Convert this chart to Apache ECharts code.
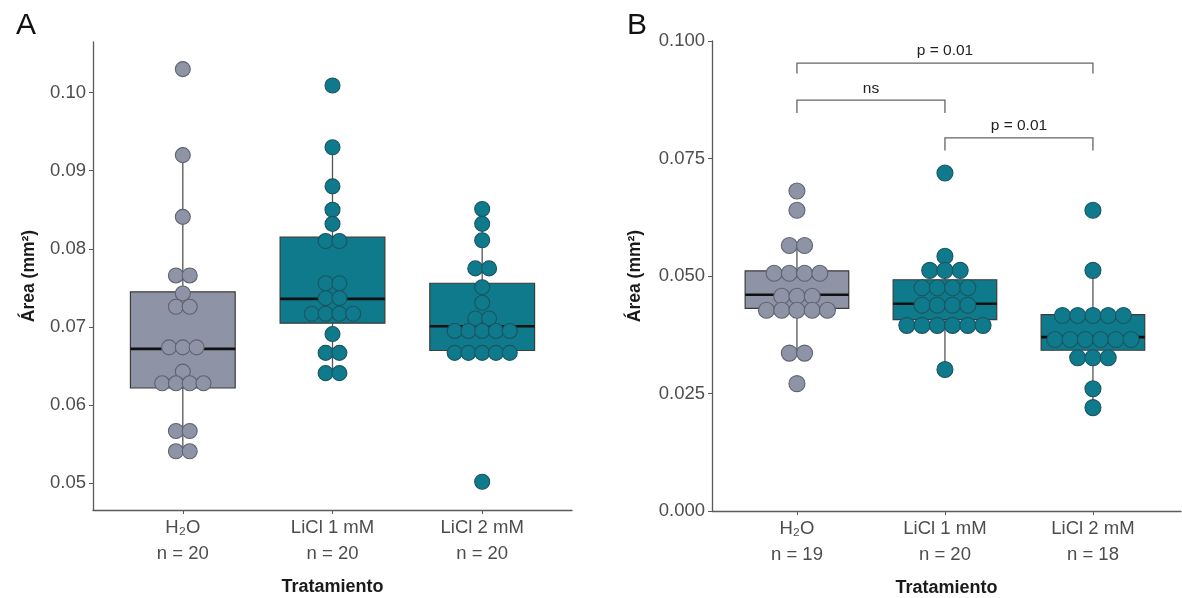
<!DOCTYPE html>
<html><head><meta charset="utf-8">
<script src="https://cdn.jsdelivr.net/npm/echarts@6/dist/echarts.min.js"></script>
<style>html,body{margin:0;padding:0;background:#fff}#c{width:1182px;height:598px}</style>
</head><body><div id="c"></div>
<script>
// ---------- data ----------
const categories = ['H₂O', 'LiCl 1 mM', 'LiCl 2 mM'];
const nA = [20, 20, 20];
const nB = [19, 20, 18];
const ticksA = [0.05, 0.06, 0.07, 0.08, 0.09, 0.10];
const ticksB = [0, 0.025, 0.05, 0.075, 0.1];

// Panel A individual values (dot-plot bins)
const aH2O  = [0.1030, 0.0920, 0.0841, 0.0766, 0.0766, 0.0743, 0.0726, 0.0726, 0.0674, 0.0674, 0.0674,
               0.0643, 0.0628, 0.0628, 0.0628, 0.0628, 0.0567, 0.0567, 0.0541, 0.0541];
const aLi1  = [0.1009, 0.0930, 0.0880, 0.0850, 0.0832, 0.0810, 0.0810, 0.0756, 0.0756, 0.0737, 0.0737,
               0.0717, 0.0717, 0.0717, 0.0717, 0.0691, 0.0667, 0.0667, 0.0641, 0.0641];
const aLi2  = [0.0851, 0.0832, 0.0811, 0.0775, 0.0775, 0.0751, 0.0731, 0.0711, 0.0711,
               0.0695, 0.0695, 0.0695, 0.0695, 0.0695, 0.0667, 0.0667, 0.0667, 0.0667, 0.0667, 0.0502];
// Panel A box stats: [lower whisker, Q1, median, Q3, upper whisker]
const boxA = [
  [0.0541, 0.0622, 0.0672, 0.0745, 0.0920],
  [0.0641, 0.0705, 0.0736, 0.0815, 0.0930],
  [0.0667, 0.0670, 0.0701, 0.0756, 0.0851]
];

// Panel B individual values
const bH2O = [0.0681, 0.0640, 0.0565, 0.0565, 0.0506, 0.0506, 0.0506, 0.0506, 0.0457, 0.0457, 0.0457,
              0.0427, 0.0427, 0.0427, 0.0427, 0.0427, 0.0336, 0.0336, 0.0271];
const bLi1 = [0.0719, 0.0542, 0.0512, 0.0512, 0.0512, 0.0475, 0.0475, 0.0475, 0.0475,
              0.0438, 0.0438, 0.0438, 0.0438, 0.0395, 0.0395, 0.0395, 0.0395, 0.0395, 0.0395, 0.0301];
const bLi2 = [0.0640, 0.0512, 0.0416, 0.0416, 0.0416, 0.0416, 0.0416,
              0.0365, 0.0365, 0.0365, 0.0365, 0.0365, 0.0365, 0.0326, 0.0326, 0.0326, 0.0260, 0.0220];
const boxB = [
  [0.0336, 0.0431, 0.0460, 0.0511, 0.0565],
  [0.0301, 0.0407, 0.0441, 0.0492, 0.0542],
  [0.0220, 0.0342, 0.0370, 0.0418, 0.0512]
];
// significance brackets: [from group, to group, bar level, tick end, label]
const bracketsB = [
  [1, 3, 0.0953, 0.0931, 'p = 0.01'],
  [1, 2, 0.0874, 0.0847, 'ns'],
  [2, 3, 0.0794, 0.0767, 'p = 0.01']
];

// ---------- styling ----------
const FONT = "'Liberation Sans', Arial, sans-serif";
const GRAY = '#8e94a6', GRAY_EDGE = '#5e6373';
const TEAL = '#0f7a8b', TEAL_EDGE = '#1b5561';
const fills = [GRAY, TEAL, TEAL];
const edges = [GRAY_EDGE, TEAL_EDGE, TEAL_EDGE];
const AXC = '#5a5a5a', TXT = '#4d4d4d';

// stack equal values side by side (dot-plot, centred)
function dots(values, group, step) {
  const counts = {}, idx = {};
  values.forEach(v => { counts[v] = (counts[v] || 0) + 1; });
  return values.map(v => {
    const k = idx[v] = (idx[v] === undefined ? 0 : idx[v] + 1);
    return [group + (k - (counts[v] - 1) / 2) * step, v];
  });
}

function boxSeries(ax, stats, halfW) {
  return {
    type: 'custom', xAxisIndex: ax, yAxisIndex: ax, z: 2, silent: true,
    encode: { x: 0, y: [1, 2, 3, 4, 5] },
    data: stats.map((s, i) => [i + 1].concat(s)),
    renderItem: (params, api) => {
      const x = api.value(0), i = params.dataIndex;
      const c = v => api.coord([x, v]);
      const lo = c(api.value(1)), q1 = c(api.value(2)), md = c(api.value(3)), q3 = c(api.value(4)), hi = c(api.value(5));
      const l = api.coord([x - halfW, api.value(3)])[0], r = api.coord([x + halfW, api.value(3)])[0];
      const ls = { stroke: '#555', lineWidth: 1.3 };
      return { type: 'group', children: [
        { type: 'line', shape: { x1: hi[0], y1: hi[1], x2: q3[0], y2: q3[1] }, style: ls, z2: 1 },
        { type: 'line', shape: { x1: lo[0], y1: lo[1], x2: q1[0], y2: q1[1] }, style: ls, z2: 1 },
        { type: 'rect', shape: { x: l, y: q3[1], width: r - l, height: q1[1] - q3[1] },
          style: { fill: fills[i], stroke: '#3b3b3b', lineWidth: 1.2 }, z2: 2 },
        { type: 'line', shape: { x1: l, y1: md[1], x2: r, y2: md[1] },
          style: { stroke: '#111', lineWidth: 2.6 }, z2: 3 }
      ]};
    }
  };
}

function dotSeries(ax, arrays, step, size) {
  return arrays.map((vals, g) => ({
    type: 'scatter', xAxisIndex: ax, yAxisIndex: ax, z: 5, silent: true,
    symbolSize: size,
    itemStyle: { color: fills[g], borderColor: edges[g], borderWidth: 1.1, opacity: 1 },
    data: dots(vals, g + 1, step)
  }));
}

function xAxis(gi, ns, min, max) {
  return {
    type: 'value', gridIndex: gi, min: min, max: max,
    name: 'Tratamiento', nameLocation: 'middle', nameGap: 68,
    nameTextStyle: { fontFamily: FONT, fontWeight: 'bold', fontSize: 18, color: '#1a1a1a' },
    axisLine: { show: true, lineStyle: { color: AXC, width: 1.3 } },
    axisTick: { show: true, length: 4, customValues: [1, 2, 3], lineStyle: { color: AXC } },
    axisLabel: { customValues: [1, 2, 3], margin: 5, fontFamily: FONT, fontSize: 18.5, color: TXT, lineHeight: 26,
      formatter: v => categories[Math.round(v) - 1] + '\nn = ' + ns[Math.round(v) - 1] },
    splitLine: { show: false }
  };
}
function yAxis(gi, min, max, ticks, dec, gap) {
  return {
    type: 'value', gridIndex: gi, min: min, max: max,
    name: 'Área (mm²)', nameLocation: 'middle', nameGap: gap, nameRotate: 90,
    nameTextStyle: { fontFamily: FONT, fontWeight: 'bold', fontSize: 17.5, color: '#1a1a1a' },
    axisLine: { show: true, lineStyle: { color: AXC, width: 1.3 } },
    axisTick: { show: true, length: 4, customValues: ticks, lineStyle: { color: AXC } },
    axisLabel: { customValues: ticks, margin: 7, fontFamily: FONT, fontSize: 18.5, color: TXT,
      formatter: v => v.toFixed(dec) },
    splitLine: { show: false }
  };
}

const bracketSeries = {
  type: 'custom', xAxisIndex: 1, yAxisIndex: 1, z: 6, silent: true,
  encode: { x: [0, 1], y: [2, 3] },
  data: bracketsB,
  renderItem: (params, api) => {
    const x1 = api.value(0), x2 = api.value(1), yb = api.value(2), yt = api.value(3);
    const a = api.coord([x1, yt]), b = api.coord([x1, yb]), c = api.coord([x2, yb]), d = api.coord([x2, yt]);
    return { type: 'group', children: [
      { type: 'polyline', shape: { points: [a, b, c, d] }, style: { stroke: '#666', lineWidth: 1.3, fill: null } },
      { type: 'text', style: { text: bracketsB[params.dataIndex][4], x: (b[0] + c[0]) / 2, y: b[1] - 4,
        align: 'center', verticalAlign: 'bottom', fontFamily: FONT, fontSize: 15.5, fill: '#222' } }
    ]};
  }
};

const option = {
  backgroundColor: '#fff',
  animation: false,
  title: [
    { text: 'A', left: 11, top: 6, textStyle: { fontFamily: FONT, fontSize: 30, fontWeight: 'normal', color: '#111' } },
    { text: 'B', left: 622, top: 6, textStyle: { fontFamily: FONT, fontSize: 30, fontWeight: 'normal', color: '#111' } }
  ],
  grid: [
    { left: 93, top: 42, width: 479, height: 468, outerBoundsMode: 'none' },
    { left: 712, top: 41, width: 469, height: 470, outerBoundsMode: 'none' }
  ],
  xAxis: [xAxis(0, nA, 0.4, 3.6), xAxis(1, nB, 0.426, 3.595)],
  yAxis: [yAxis(0, 0.04659, 0.10647, ticksA, 2, 55), yAxis(1, 0, 0.1, ticksB, 3, 68)],
  series: [
    boxSeries(0, boxA, 0.35),
    ...dotSeries(0, [aH2O, aLi1, aLi2], 0.092, 15),
    boxSeries(1, boxB, 0.35),
    ...dotSeries(1, [bH2O, bLi1, bLi2], 0.103, 16),
    bracketSeries
  ]
};
const chart = echarts.init(document.getElementById('c'), null, { renderer: 'canvas' });
chart.setOption(option);
</script></body></html>
